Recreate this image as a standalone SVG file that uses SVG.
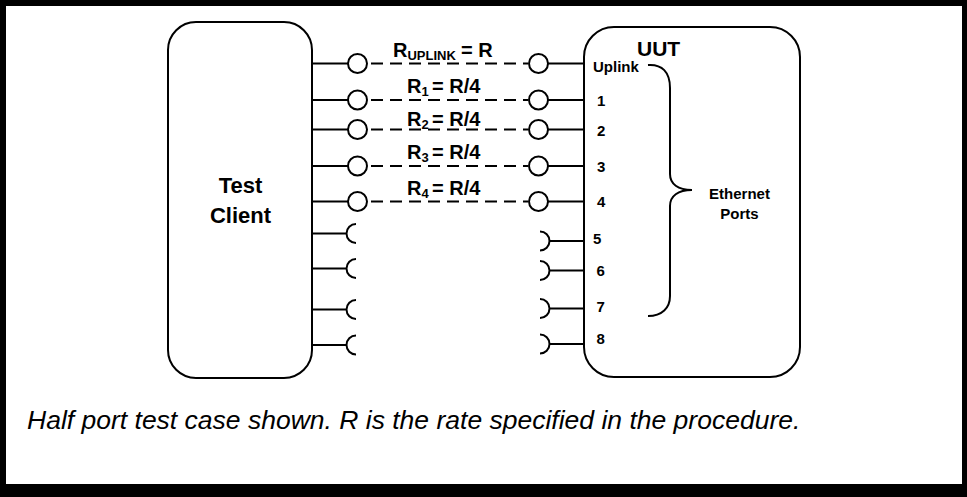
<svg xmlns="http://www.w3.org/2000/svg" width="967" height="497" viewBox="0 0 967 497">
<style>
.box{fill:none;stroke:#000;stroke-width:2}
.ln{fill:none;stroke:#000;stroke-width:2}
.dash{fill:none;stroke:#000;stroke-width:2;stroke-dasharray:12 7;stroke-dashoffset:-4}
.jack{fill:#fff;stroke:#000;stroke-width:2}
.t{font-family:"Liberation Sans",Arial,sans-serif;font-weight:bold;fill:#000}
.cap{font-family:"Liberation Sans",Arial,sans-serif;font-style:italic;fill:#000;font-size:26.5px}
</style>
<rect x="0" y="0" width="967" height="497" fill="#000"/>
<rect x="6" y="6" width="956" height="478" fill="#fff"/>

<g id="test-client">
<rect class="box" x="168" y="22" width="144" height="356" rx="28" ry="28"/>
<text class="t" x="240.5" y="193" font-size="22" text-anchor="middle">Test</text>
<text class="t" x="240.5" y="222.5" font-size="22" text-anchor="middle">Client</text>
</g>

<g id="uut">
<rect class="box" x="584" y="27" width="216" height="350" rx="30" ry="30"/>
<text class="t" x="637" y="56" font-size="21">UUT</text>
<text class="t" x="593" y="71.5" font-size="15">Uplink</text>
<text class="t" x="597" y="106" font-size="15">1</text>
<text class="t" x="597" y="136" font-size="15">2</text>
<text class="t" x="597" y="171.5" font-size="15">3</text>
<text class="t" x="597" y="206.5" font-size="15">4</text>
<text class="t" x="593" y="243.5" font-size="15">5</text>
<text class="t" x="596.5" y="276" font-size="15">6</text>
<text class="t" x="596.5" y="312" font-size="15">7</text>
<text class="t" x="596.5" y="344" font-size="15">8</text>
<path class="ln" d="M648,65 C662,64 670,72 670,88 L670,174 C670,184 678,190 692,190 C678,190 670,196 670,206 L670,296 C670,308 662,316 648,316"/>
<text class="t" x="739.5" y="199" font-size="15" text-anchor="middle">Ethernet</text>
<text class="t" x="739.5" y="218.5" font-size="15" text-anchor="middle">Ports</text>
</g>

<g id="connectors">
<line class="ln" x1="312" y1="63.5" x2="348" y2="63.5"/>
<line class="dash" x1="367" y1="63.5" x2="528" y2="63.5"/>
<line class="ln" x1="548" y1="63.5" x2="584" y2="63.5"/>
<circle class="jack" cx="357.5" cy="63.5" r="9.5"/>
<circle class="jack" cx="538.5" cy="63.5" r="9.5"/>

<line class="ln" x1="312" y1="100" x2="348" y2="100"/>
<line class="dash" x1="367" y1="100" x2="528" y2="100"/>
<line class="ln" x1="548" y1="100" x2="584" y2="100"/>
<circle class="jack" cx="357.5" cy="100" r="9.5"/>
<circle class="jack" cx="538.5" cy="100" r="9.5"/>

<line class="ln" x1="312" y1="129.5" x2="348" y2="129.5"/>
<line class="dash" x1="367" y1="129.5" x2="528" y2="129.5"/>
<line class="ln" x1="548" y1="129.5" x2="584" y2="129.5"/>
<circle class="jack" cx="357.5" cy="129.5" r="9.5"/>
<circle class="jack" cx="538.5" cy="129.5" r="9.5"/>

<line class="ln" x1="312" y1="166" x2="348" y2="166"/>
<line class="dash" x1="367" y1="166" x2="528" y2="166"/>
<line class="ln" x1="548" y1="166" x2="584" y2="166"/>
<circle class="jack" cx="357.5" cy="166" r="9.5"/>
<circle class="jack" cx="538.5" cy="166" r="9.5"/>

<line class="ln" x1="312" y1="201.5" x2="348" y2="201.5"/>
<line class="dash" x1="367" y1="201.5" x2="528" y2="201.5"/>
<line class="ln" x1="548" y1="201.5" x2="584" y2="201.5"/>
<circle class="jack" cx="357.5" cy="201.5" r="9.5"/>
<circle class="jack" cx="538.5" cy="201.5" r="9.5"/>

<path class="ln" d="M312,233.5 H346.5 M356,224 A9.5,9.5 0 0 0 356,243"/>
<path class="ln" d="M312,268.5 H346.5 M356,259 A9.5,9.5 0 0 0 356,278"/>
<path class="ln" d="M312,309.5 H346.5 M356,300 A9.5,9.5 0 0 0 356,319"/>
<path class="ln" d="M312,345 H346.5 M356,335.5 A9.5,9.5 0 0 0 356,354.5"/>
<path class="ln" d="M584,241 H549.5 M540,231.5 A9.5,9.5 0 0 1 540,250.5"/>
<path class="ln" d="M584,270.5 H549.5 M540,261 A9.5,9.5 0 0 1 540,280"/>
<path class="ln" d="M584,308.5 H549.5 M540,299 A9.5,9.5 0 0 1 540,318"/>
<path class="ln" d="M584,344 H549.5 M540,334.5 A9.5,9.5 0 0 1 540,353.5"/>

<text class="t" x="393" y="56.5" font-size="20">R<tspan font-size="13" dy="3">UPLINK</tspan><tspan x="461" dy="-3">= R</tspan></text>
<text class="t" x="407" y="92.5" font-size="20">R<tspan font-size="13" dy="3">1</tspan><tspan x="432" dy="-3">= R/4</tspan></text>
<text class="t" x="407" y="126" font-size="20">R<tspan font-size="13" dy="3">2</tspan><tspan x="432" dy="-3">= R/4</tspan></text>
<text class="t" x="407" y="159" font-size="20">R<tspan font-size="13" dy="3">3</tspan><tspan x="432" dy="-3">= R/4</tspan></text>
<text class="t" x="407" y="194.5" font-size="20">R<tspan font-size="13" dy="3">4</tspan><tspan x="432" dy="-3">= R/4</tspan></text>
</g>

<text class="cap" x="27" y="429">Half port test case shown. R is the rate specified in the procedure.</text>
</svg>
